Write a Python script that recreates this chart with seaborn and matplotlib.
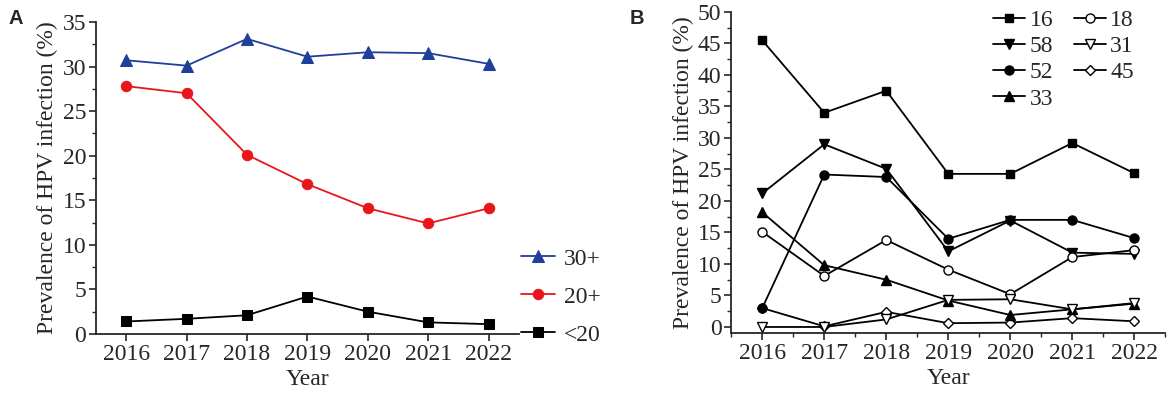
import numpy as np
import pandas as pd
import matplotlib
matplotlib.use("Agg")
import matplotlib.pyplot as plt
import seaborn as sns
from matplotlib.ticker import MultipleLocator

sns.set_style("ticks")
plt.rcParams["font.family"] = ["Liberation Serif", "DejaVu Serif"]

years = [2016, 2017, 2018, 2019, 2020, 2021, 2022]

# panel A: by age group
age_30 = [30.7, 30.1, 33.1, 31.1, 31.6, 31.5, 30.3]
age_20 = [27.8, 27.0, 20.1, 16.8, 14.1, 12.4, 14.1]
age_lt20 = [1.4, 1.7, 2.1, 4.2, 2.5, 1.3, 1.1]

# panel B: by HPV genotype
hpv16 = [45.5, 34.0, 37.5, 24.3, 24.3, 29.2, 24.4]
hpv58 = [21.2, 29.0, 25.1, 12.0, 16.9, 11.8, 11.6]
hpv52 = [3.0, 24.2, 23.8, 14.0, 17.0, 17.0, 14.1]
hpv33 = [18.2, 9.8, 7.5, 4.2, 1.9, 2.8, 3.7]
hpv18 = [15.1, 8.1, 13.8, 9.1, 5.2, 11.1, 12.2]
hpv31 = [0.0, 0.0, 1.2, 4.3, 4.4, 2.8, 3.8]
hpv45 = [3.0, 0.1, 2.4, 0.6, 0.7, 1.4, 0.9]

FS = 17

fig = plt.figure(figsize=(11.7, 3.99), dpi=100)
axA = fig.add_axes([0.082, 0.163, 0.3615, 0.782])
axB = fig.add_axes([0.625, 0.1655, 0.371, 0.8045])

seriesA = [
    ("30+", age_30, "^", "#1f3f9a", 8),
    ("20+", age_20, "o", "#e8161c", 7.5),
    ("<20", age_lt20, "s", "black", 6.5),
]
for name, vals, mk, col, ms in seriesA:
    sns.lineplot(x=years, y=vals, ax=axA, marker=mk, color=col, markersize=ms,
                 markeredgecolor=col, linewidth=1.3, label=name)

axA.set_xlim(2015.5, 2022.5)
axA.set_ylim(0, 35)
axA.yaxis.set_major_locator(MultipleLocator(5))
axA.yaxis.set_minor_locator(MultipleLocator(2.5))
axA.set_xticks(years)
axA.legend(loc="center left", bbox_to_anchor=(1.005, 0.119), frameon=False,
           fontsize=FS, handlelength=1.45, handletextpad=0.35, labelspacing=0.7,
           borderpad=0, borderaxespad=0)

seriesB = [
    ("16", hpv16, "s", "black"),
    ("58", hpv58, "v", "black"),
    ("45", hpv45, "D", "white"),
    ("52", hpv52, "o", "black"),
    ("33", hpv33, "^", "black"),
    ("18", hpv18, "o", "white"),
    ("31", hpv31, "v", "white"),
]
for name, vals, mk, fc in seriesB:
    ms = 5.5 if mk in ("D", "s") else 6.5
    sns.lineplot(x=years, y=vals, ax=axB, marker=mk, color="black", markersize=ms,
                 markerfacecolor=fc, markeredgecolor="black", markeredgewidth=1.0,
                 linewidth=1.3, label=name)

axB.set_xlim(2015.5, 2022.5)
axB.set_ylim(-0.95, 50)
axB.yaxis.set_major_locator(MultipleLocator(5))
axB.yaxis.set_minor_locator(MultipleLocator(2.5))
axB.set_xticks(years)
axB.xaxis.set_minor_locator(MultipleLocator(0.5))

h, l = axB.get_legend_handles_labels()
order = ["16", "58", "52", "33", "18", "31", "45"]
hd = dict(zip(l, h))
axB.legend([hd[k] for k in order], order, loc="upper left", bbox_to_anchor=(0.604, 1.008),
           ncol=2, frameon=False, fontsize=FS, handlelength=1.35, handletextpad=0.2,
           labelspacing=0.2, columnspacing=0.85, borderpad=0, borderaxespad=0)

for ax in (axA, axB):
    sns.despine(ax=ax)
    ax.set_xlabel("Year", fontsize=FS, labelpad=3)
    ax.set_ylabel("Prevalence of HPV infection (%)", fontsize=FS, labelpad=3)
    ax.tick_params(axis="both", which="major", labelsize=FS, direction="out",
                   length=5, width=1.2, pad=2)
    ax.tick_params(axis="both", which="minor", direction="out", length=3, width=1.0)
    for s in ("left", "bottom"):
        ax.spines[s].set_linewidth(1.3)

fig.text(0.007, 0.978, "A", fontsize=14.5, fontweight="bold", family="Liberation Sans", va="top")
fig.text(0.538, 0.978, "B", fontsize=14.5, fontweight="bold", family="Liberation Sans", va="top")

plt.savefig("out.png", dpi=100)
